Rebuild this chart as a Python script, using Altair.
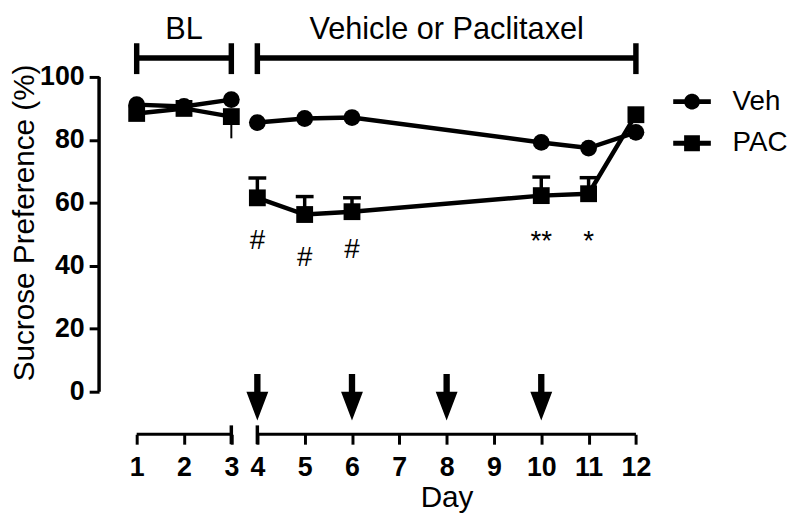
import altair as alt
import pandas as pd

# ---------------- data ----------------
days = [1, 2, 3, 4, 5, 6, 10, 11, 12]
veh_mean = [91.2, 90.6, 92.8, 85.5, 86.8, 87.1, 79.2, 77.4, 82.4]
pac_mean = [88.4, 90.0, 87.4, 61.6, 56.3, 57.2, 62.3, 62.9, 88.0]
pac_upper = [None, None, None, 67.9, 62.0, 61.6, 68.2, 68.0, None]
pac_lower = [None, None, 80.5, None, None, None, None, None, None]

series_names = ["Veh", "PAC"]
tick_days = list(range(1, 13))
y_ticks = [0, 20, 40, 60, 80, 100]
injection_days = [4, 6, 8, 10]

phase_names = ["BL", "Vehicle or Paclitaxel"]
phase_start = [1, 4]
phase_end = [3, 12]

sig_days = [4, 5, 6, 10, 11]
sig_labels = ["#", "#", "#", "**", "*"]
sig_y = [45.3, 39.9, 42.5, 45.0, 45.0]

# ---------------- layout helpers (broken x axis) ----------------
GAP = 0.45  # the axis is broken between day 3 and day 4


def pos(d):
    return d if d <= 3 else d - GAP


FONT = "Liberation Sans"
W, H = 560, 361
X_MIN, X_MAX = 0.205, 11.92
Y_MIN, Y_MAX = -13.5, 100

XS = alt.Scale(domain=[X_MIN, X_MAX], nice=False, zero=False)
YS = alt.Scale(domain=[Y_MIN, Y_MAX], nice=False, zero=False)

x_axis = alt.Axis(
    values=[pos(d) for d in tick_days],
    labelExpr=f"'' + round(datum.value > 3.2 ? datum.value + {GAP} : datum.value)",
    domain=False, grid=False, tickSize=10, tickWidth=3, tickColor="black",
    labelFont=FONT, labelFontSize=27, labelFontWeight="bold", labelColor="black",
    labelPadding=11, labelOverlap=False, labelFlush=False, labelBound=False,
    title="Day", titleFont=FONT, titleFontSize=30, titleFontWeight="normal",
    titleColor="black", titleX=351, titleY=73, titleBaseline="alphabetic",
    titleAlign="center",
)
y_axis = alt.Axis(
    values=y_ticks, domain=False, grid=False, tickSize=10, tickWidth=3,
    tickColor="black", labelFont=FONT, labelFontSize=27, labelFontWeight="bold",
    labelColor="black", labelPadding=5, labelOverlap=False, labelFlush=False,
    title="Sucrose Preference (%)", titleFont=FONT, titleFontSize=30,
    titleFontWeight="normal", titleColor="black", titleAngle=270,
    titleX=-75, titleY=147, titleBaseline="middle", titleAlign="center",
)

# ---------------- tables ----------------
rows = []
for name, means in (("Veh", veh_mean), ("PAC", pac_mean)):
    for i, d in enumerate(days):
        rows.append({
            "Group": name, "Day": d, "pos": pos(d), "mean": means[i],
            "phase": "BL" if d <= 3 else "Tx",
            "upper": pac_upper[i] if name == "PAC" else None,
            "lower": pac_lower[i] if name == "PAC" else None,
        })
df = pd.DataFrame(rows)
veh_df = df[df.Group == "Veh"]
pac_df = df[df.Group == "PAC"]
up_df = pac_df.dropna(subset=["upper"])
lo_df = pac_df.dropna(subset=["lower"])

phases = pd.DataFrame({
    "name": phase_names,
    "start": [pos(d) for d in phase_start],
    "end": [pos(d) for d in phase_end],
    "mid": [pos((a + b) / 2) for a, b in zip(phase_start, phase_end)],
})
ends = pd.DataFrame({"p": [pos(d) for d in phase_start + phase_end]})
inner_caps = pd.DataFrame({"p": [pos(phase_end[0]), pos(phase_start[1])]})
arrows = pd.DataFrame({"p": [pos(d) for d in injection_days]})
sig = pd.DataFrame({"p": [pos(d) for d in sig_days], "label": sig_labels, "y": sig_y})
spine = pd.DataFrame({"lo": [min(y_ticks)], "hi": [max(y_ticks)]})


def X(f):
    return alt.X(f, type="quantitative", scale=XS, axis=x_axis)


def Y(f):
    return alt.Y(f, type="quantitative", scale=YS, axis=y_axis)


def YD(v):
    return alt.YDatum(v, type="quantitative", scale=YS, axis=y_axis)


# ---------------- layers ----------------
lines = alt.Chart(df).mark_line(color="black", strokeWidth=4.5).encode(
    x=X("pos"), y=Y("mean"),
    detail=[alt.Detail("Group:N"), alt.Detail("phase:N")],
)
err_up = alt.Chart(up_df).mark_rule(color="black", strokeWidth=3.5).encode(
    x=X("pos"), y=Y("mean"), y2="upper"
)
err_cap = alt.Chart(up_df).mark_tick(
    color="black", thickness=3.5, size=18, orient="horizontal", opacity=1
).encode(x=X("pos"), y=Y("upper"))
err_lo = alt.Chart(lo_df).mark_rule(color="black", strokeWidth=2).encode(
    x=X("pos"), y=Y("mean"), y2="lower"
)
veh_pts = alt.Chart(veh_df).mark_point(
    shape="circle", filled=True, size=289, color="black", opacity=1
).encode(x=X("pos"), y=Y("mean"))
pac_pts = alt.Chart(pac_df).mark_point(
    shape="square", filled=True, size=289, color="black", opacity=1
).encode(x=X("pos"), y=Y("mean"))

circle_leg = ("M-1,-0.13L-0.4,-0.13A0.42,0.42 0 0 1 0.4,-0.13L1,-0.13L1,0.13"
              "L0.4,0.13A0.42,0.42 0 0 1 -0.4,0.13L-1,0.13Z")
square_leg = ("M-1,-0.13L-0.42,-0.13L-0.42,-0.42L0.42,-0.42L0.42,-0.13L1,-0.13"
              "L1,0.13L0.42,0.13L0.42,0.42L-0.42,0.42L-0.42,0.13L-1,0.13Z")
legend_layer = alt.Chart(df).mark_point(filled=True, opacity=0, color="black").encode(
    x=X("pos"), y=Y("mean"),
    shape=alt.Shape(
        "Group:N",
        scale=alt.Scale(domain=series_names, range=[circle_leg, square_leg]),
        legend=alt.Legend(
            title=None, orient="none", legendX=580, legendY=6, padding=0,
            symbolSize=1444, symbolFillColor="black", symbolStrokeColor="black",
            symbolStrokeWidth=0, symbolOpacity=1, labelFont=FONT,
            labelFontSize=28, labelColor="black", labelOffset=22, rowPadding=9,
        ),
    ),
)

# y axis spine (0 to 100 only)
y_spine = alt.Chart(spine).mark_rule(color="black", strokeWidth=3.5).encode(
    x=alt.value(0), y=Y("lo"), y2="hi"
)
# broken x axis line
x_segments = alt.Chart(phases).mark_rule(color="black", strokeWidth=3).encode(
    x=X("start"), x2="end", y=alt.value(H)
)
x_caps = alt.Chart(inner_caps).mark_rule(color="black", strokeWidth=3.5).encode(
    x=X("p"), y=alt.value(H - 9), y2=alt.value(H + 10)
)

# top brackets with labels
br_line = alt.Chart(phases).mark_rule(color="black", strokeWidth=5.5).encode(
    x=X("start"), x2="end", y=YD(106)
)
br_caps = alt.Chart(ends).mark_rule(color="black", strokeWidth=5.5).encode(
    x=X("p"), y=YD(100.9), y2=alt.Y2Datum(110.7)
)
br_text = alt.Chart(phases).mark_text(
    font=FONT, fontSize=31, color="black", baseline="alphabetic", align="center"
).encode(x=X("mid"), y=YD(112.0), text="name:N")

# injection arrows
arrow_path = ("M-0.136,-1L0.136,-1L0.136,-0.234L0.47,-0.234L0,1L-0.47,-0.234"
              "L-0.136,-0.234Z")
arrow_layer = alt.Chart(arrows).mark_point(
    shape=arrow_path, filled=True, size=2209, color="black", opacity=1, strokeWidth=0
).encode(x=X("p"), y=YD(-1.73))

# significance marks
sig_layer = alt.Chart(sig).mark_text(
    font=FONT, fontSize=28, color="black", baseline="alphabetic", align="center"
).encode(x=X("p"), y=Y("y"), text="label:N")

chart = alt.layer(
    lines, err_up, err_cap, err_lo, veh_pts, pac_pts, legend_layer,
    y_spine, x_segments, x_caps, br_line, br_caps, br_text, arrow_layer, sig_layer,
).properties(
    width=W, height=H,
    autosize=alt.AutoSizeParams(type="none"),
    padding={"left": 92, "top": 67, "right": 140, "bottom": 88},
    background="white",
).configure_view(stroke=None)

chart.save("out.html", embed_options={"renderer": "svg", "actions": False})
